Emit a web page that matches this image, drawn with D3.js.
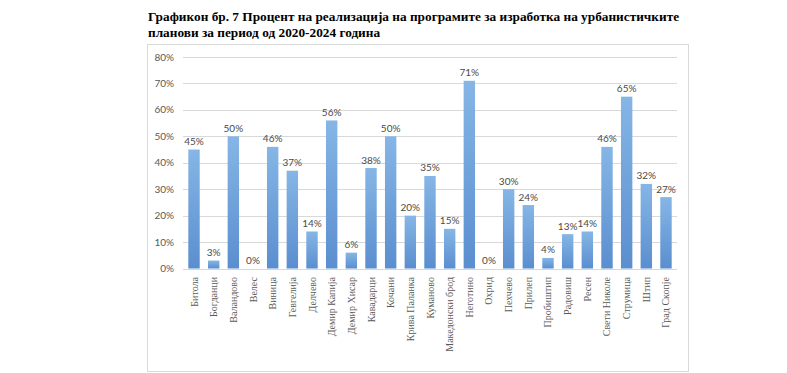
<!DOCTYPE html>
<html lang="mk">
<head>
<meta charset="UTF-8">
<title>Графикон бр. 7</title>
<script src="https://cdn.jsdelivr.net/npm/d3@7"></script>
<style>
    body { margin: 0; background: #fff; }
    text.title { font-family: "Liberation Serif", serif; font-weight: bold; font-size: 13.3px; fill: #000; }
    text.tick-label { font-family: "Lato", "Liberation Sans", sans-serif; font-size: 10px; fill: #595959; }
    text.value { font-family: "Lato", "Liberation Sans", sans-serif; font-size: 10px; fill: #4a4a4a; }
    text.cat { font-family: "Liberation Serif", serif; font-size: 10px; fill: #595959; }
</style>
</head>
<body>
<div id="chart"></div>
<script>
    var titleLines = ["Графикон бр. 7 Процент на реализација на програмите за изработка на урбанистичките",
        "планови за период од 2020-2024 година"];

    var municipalities = ["Битола", "Богданци", "Валандово", "Велес", "Виница", "Гевгелија", "Делчево",
        "Демир Капија", "Демир Хисар", "Кавадарци", "Кочани", "Крива Паланка", "Куманово",
        "Македонски брод", "Неготино", "Охрид", "Пехчево", "Прилеп", "Пробиштип", "Радовиш",
        "Ресен", "Свети Николе", "Струмица", "Штип", "Град Скопје"];

    var realization = [45, 3, 50, 0, 46, 37, 14, 56, 6, 38, 50, 20, 35, 15, 71, 0, 30, 24, 4, 13, 14, 46, 65, 32, 27];

    var yTicks = [0, 10, 20, 30, 40, 50, 60, 70, 80];

    var W = 787, H = 373;
    var plot = {left: 183, right: 677, top: 57, bottom: 268.5};

    var svg = d3.select("#chart").append("svg")
        .attr("width", W)
        .attr("height", H);

    var defs = svg.append("defs");
    var grad = defs.append("linearGradient")
        .attr("id", "barGrad")
        .attr("x1", 0).attr("y1", 0).attr("x2", 0).attr("y2", 1);
    grad.append("stop").attr("offset", "0%").attr("stop-color", "#86b6e6");
    grad.append("stop").attr("offset", "100%").attr("stop-color", "#5a8ecf");

    // title
    svg.selectAll("text.title")
        .data(titleLines)
        .enter().append("text")
        .attr("class", "title")
        .attr("x", 148)
        .attr("y", function(d, i) { return 21 + i * 16; })
        .text(function(d) { return d; });

    // chart frame
    svg.append("rect")
        .attr("x", 147.5).attr("y", 44.5)
        .attr("width", 541).attr("height", 327)
        .attr("fill", "none")
        .attr("stroke", "#d9d9d9")
        .attr("stroke-width", 1);

    var x = d3.scaleBand()
        .domain(municipalities)
        .range([plot.left, plot.right])
        .paddingInner(0.42)
        .paddingOuter(0.27);

    var y = d3.scaleLinear()
        .domain([0, 80])
        .range([plot.bottom, plot.top]);

    // gridlines
    svg.selectAll("line.grid")
        .data(yTicks)
        .enter().append("line")
        .attr("class", "grid")
        .attr("x1", plot.left).attr("x2", plot.right)
        .attr("y1", function(d) { return Math.round(y(d)) + 0.5; })
        .attr("y2", function(d) { return Math.round(y(d)) + 0.5; })
        .attr("stroke", "#d9d9d9")
        .attr("stroke-width", 1);

    svg.selectAll("text.tick-label")
        .data(yTicks)
        .enter().append("text")
        .attr("class", "tick-label")
        .attr("x", 174)
        .attr("y", function(d) { return y(d) + 3.5; })
        .style("text-anchor", "end")
        .text(function(d) { return d + "%"; });

    // bars
    svg.selectAll("rect.bar")
        .data(realization)
        .enter().append("rect")
        .attr("class", "bar")
        .attr("x", function(d, i) { return x(municipalities[i]); })
        .attr("y", function(d) { return y(d); })
        .attr("width", x.bandwidth())
        .attr("height", function(d) { return y(0) - y(d); })
        .attr("fill", "url(#barGrad)");

    // value labels
    svg.selectAll("text.value")
        .data(realization)
        .enter().append("text")
        .attr("class", "value")
        .attr("x", function(d, i) { return x(municipalities[i]) + x.bandwidth() / 2; })
        .attr("y", function(d) { return y(d) - 4.5; })
        .style("text-anchor", "middle")
        .text(function(d) { return d + "%"; });

    // category labels, rotated
    svg.selectAll("text.cat")
        .data(municipalities)
        .enter().append("text")
        .attr("class", "cat")
        .attr("transform", function(d) {
            return "translate(" + (x(d) + x.bandwidth() / 2 + 3.5) + "," + 277 + ") rotate(-90)";
        })
        .style("text-anchor", "end")
        .text(function(d) { return d; });
</script>
</body>
</html>
